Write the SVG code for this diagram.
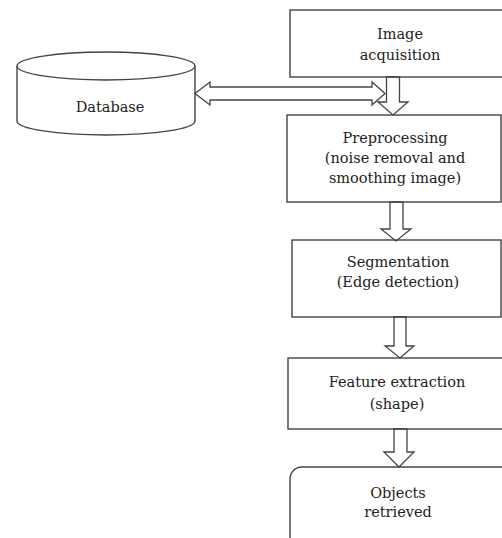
<svg xmlns="http://www.w3.org/2000/svg" width="502" height="538" viewBox="0 0 502 538">
<style>
.box{fill:#fff;stroke:#444;stroke-width:1.4}
.arr{fill:none;stroke:#444;stroke-width:1.3;stroke-linejoin:miter}
.t{font-family:"DejaVu Serif","Liberation Serif",serif;font-size:14.5px;fill:#222;text-anchor:middle}
</style>
<rect width="502" height="538" fill="#fff"/>
<g id="database">
<path class="box" d="M17,66 A89,14 0 0 1 195,66 L195,121 A89,14 0 0 1 17,121 Z"/>
<path class="arr" d="M17,66 A89,14 0 0 0 195,66"/>
<text class="t" x="110" y="112">Database</text>
</g>
<g id="image-acquisition">
<rect class="box" x="290" y="10" width="230" height="67"/>
<text class="t" x="400" y="39">Image</text>
<text class="t" x="400" y="60">acquisition</text>
</g>
<g id="preprocessing">
<rect class="box" x="287" y="115" width="214" height="87"/>
<text class="t" x="395" y="143">Preprocessing</text>
<text class="t" x="395" y="163">(noise removal and</text>
<text class="t" x="395" y="183">smoothing image)</text>
</g>
<g id="segmentation">
<rect class="box" x="292" y="240" width="209" height="77"/>
<text class="t" x="398" y="267">Segmentation</text>
<text class="t" x="398" y="287">(Edge detection)</text>
</g>
<g id="feature-extraction">
<rect class="box" x="288" y="358" width="230" height="71"/>
<text class="t" x="397" y="387">Feature extraction</text>
<text class="t" x="397" y="409">(shape)</text>
</g>
<g id="objects-retrieved">
<rect class="box" x="290" y="467" width="230" height="90" rx="12"/>
<text class="t" x="398" y="498">Objects</text>
<text class="t" x="398" y="517">retrieved</text>
</g>
<g id="connectors">
<polygon class="arr" points="195,93.5 210,82 210,87 372,87 372,82 385,93.5 372,105 372,100 210,100 210,105"/>
<polygon class="arr" points="386.5,77 399.5,77 399.5,102 408,102 393,115 378,102 386.5,102"/>
<polygon class="arr" points="390,202 403,202 403,229 411,229 396,241 381,229 390,229"/>
<polygon class="arr" points="394,317 406,317 406,346 414,346 400,358 385,346 394,346"/>
<polygon class="arr" points="394,429 407,429 407,452 414,452 399,467 384,452 394,452"/>
</g>
</svg>
